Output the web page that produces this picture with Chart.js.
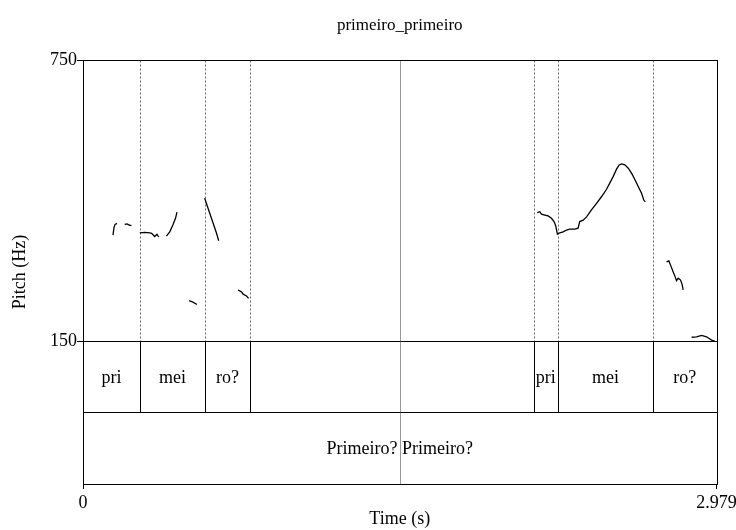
<!DOCTYPE html>
<html>
<head>
<meta charset="utf-8">
<script src="https://cdn.jsdelivr.net/npm/chart.js@4/dist/chart.umd.min.js"></script>
<style>
  html, body { margin: 0; padding: 0; background: #fff; }
  canvas { display: block; }
</style>
</head>
<body>
<canvas id="c" width="736" height="530"></canvas>
<script>
// Pitch track: time (s) and F0 (Hz); null separates voiced stretches
const pitchTime = [
  0.141, 0.146, 0.151, 0.160, null,
  0.196, 0.207, 0.220, 0.228, null,
  0.267, 0.290, 0.314, 0.323, 0.337, 0.348, 0.356, null,
  0.392, 0.408, 0.423, 0.435, 0.442, null,
  0.499, 0.517, 0.536, null,
  0.572, 0.580, 0.604, 0.628, 0.638, null,
  0.729, 0.745, 0.753, 0.769, 0.779, null,
  2.136, 2.148, 2.156, 2.172, 2.187, 2.203, 2.215, 2.223, 2.227, 2.231,
  2.242, 2.258, 2.274, 2.289, 2.313, 2.328, 2.336, 2.352, 2.368, 2.391,
  2.415, 2.438, 2.462, 2.477, 2.493, 2.509, 2.521, 2.533, 2.548, 2.564,
  2.580, 2.595, 2.611, 2.627, 2.637, 2.644, null,
  2.744, 2.755, 2.763, 2.775, 2.783, 2.791, 2.799, 2.810, 2.818, 2.822, null,
  2.862, 2.885, 2.909, 2.932, 2.956, 2.971
];
const pitchHz = [
  376, 393, 399, 401, null,
  399, 400, 397, 397, null,
  381, 382, 381, 380, 373, 378, 372, null,
  374, 383, 398, 412, 425, null,
  236, 233, 228, null,
  455, 444, 412, 380, 364, null,
  259, 255, 250, 246, 241, null,
  424, 426, 421, 419, 417, 412, 405, 396, 387, 378,
  381, 383, 387, 389, 389, 391, 405, 408, 415, 430,
  444, 458, 474, 487, 501, 517, 526, 528, 526, 519,
  508, 495, 480, 465, 451, 447, null,
  319, 321, 312, 298, 289, 279, 284, 280, 270, 259, null,
  158, 159, 162, 159, 152, 150
];

// Syllable tier
const syllableEdges = [0, 0.268, 0.574, 0.784, 2.120, 2.233, 2.680, 2.979];
const syllableLabels = ['pri', 'mei', 'ro?', '', 'pri', 'mei', 'ro?'];

// Phrase tier
const phraseEdges = [0, 2.979];
const phraseLabels = ['Primeiro? Primeiro?'];

// Cursor line at the midpoint of the sound
const cursorTime = 1.4895;

// Axes
const xTicks = [0, 2.979];
const xTickLabels = ['0', '2.979'];
const yTicks = [150, 750];
const yTickLabels = ['150', '750'];
const pitchFloor = 150;
const pitchCeiling = 750;
const chartTitle = 'primeiro_primeiro';

// The two text tiers sit below the pitch panel; their height relative to the panel
const tierShare = 143 / 281;
const yBottom = pitchFloor - (pitchCeiling - pitchFloor) * tierShare;

const FONT = "'Liberation Serif', 'Times New Roman', Times, serif";
Chart.defaults.font.family = FONT;
Chart.defaults.font.size = 18;
Chart.defaults.color = '#000';

const points = pitchTime.map((t, i) => ({ x: t, y: pitchHz[i] }));

const crisp = v => Math.round(v) + 0.5;

const tierPlugin = {
  id: 'tiers',
  beforeDatasetsDraw(chart) {
    const { ctx, chartArea: a, scales: { x, y } } = chart;
    const yBase = crisp(y.getPixelForValue(pitchFloor));
    const ySplit = crisp((y.getPixelForValue(pitchFloor) + a.bottom) / 2 - 0.5);
    const top = crisp(a.top), bottom = crisp(a.bottom);
    const left = crisp(a.left), right = crisp(a.right);
    ctx.save();
    ctx.lineWidth = 1;

    // dotted syllable boundaries through the pitch panel
    ctx.strokeStyle = '#666';
    ctx.setLineDash([2, 2]);
    syllableEdges.slice(1, -1).forEach(t => {
      const px = crisp(x.getPixelForValue(t));
      ctx.beginPath(); ctx.moveTo(px, top); ctx.lineTo(px, yBase); ctx.stroke();
    });
    ctx.setLineDash([]);

    // cursor
    ctx.strokeStyle = '#9a9a9a';
    const cx = crisp(x.getPixelForValue(cursorTime));
    ctx.beginPath(); ctx.moveTo(cx, top); ctx.lineTo(cx, bottom); ctx.stroke();

    // syllable boundaries in tier 1
    ctx.strokeStyle = '#000';
    syllableEdges.slice(1, -1).forEach(t => {
      const px = crisp(x.getPixelForValue(t));
      ctx.beginPath(); ctx.moveTo(px, yBase); ctx.lineTo(px, ySplit); ctx.stroke();
    });
    // phrase boundaries in tier 2
    phraseEdges.slice(1, -1).forEach(t => {
      const px = crisp(x.getPixelForValue(t));
      ctx.beginPath(); ctx.moveTo(px, ySplit); ctx.lineTo(px, bottom); ctx.stroke();
    });

    // tier separators and frame
    ctx.beginPath();
    ctx.moveTo(left, yBase); ctx.lineTo(right, yBase);
    ctx.moveTo(left, ySplit); ctx.lineTo(right, ySplit);
    ctx.stroke();
    ctx.strokeRect(left, top, right - left, bottom - top);

    // interval labels
    ctx.fillStyle = '#000';
    ctx.font = '18px ' + FONT;
    ctx.textAlign = 'center';
    ctx.textBaseline = 'middle';
    const midTier1 = (yBase + ySplit) / 2;
    const midTier2 = (ySplit + bottom) / 2;
    syllableLabels.forEach((lab, i) => {
      if (!lab) return;
      const px = (x.getPixelForValue(syllableEdges[i]) + x.getPixelForValue(syllableEdges[i + 1])) / 2;
      ctx.fillText(lab, px, midTier1 + 1);
    });
    phraseLabels.forEach((lab, i) => {
      const px = (x.getPixelForValue(phraseEdges[i]) + x.getPixelForValue(phraseEdges[i + 1])) / 2;
      ctx.fillText(lab, px, midTier2 + 1);
    });
    ctx.restore();
  },
  afterDraw(chart) {
    // title centred over the plot frame
    const { ctx, chartArea: a } = chart;
    ctx.save();
    ctx.fillStyle = '#000';
    ctx.font = '17px ' + FONT;
    ctx.textAlign = 'center';
    ctx.textBaseline = 'middle';
    ctx.fillText(chartTitle, (a.left + a.right) / 2, a.top - 34);
    ctx.restore();
  }
};

new Chart(document.getElementById('c'), {
  type: 'scatter',
  data: {
    datasets: [{
      data: points,
      showLine: true,
      spanGaps: false,
      borderColor: '#000',
      borderWidth: 1.3,
      pointRadius: 0,
      tension: 0
    }]
  },
  options: {
    responsive: false,
    animation: false,
    devicePixelRatio: 1,
    layout: { padding: { left: 0, right: 0, top: 60, bottom: 0 } },
    plugins: {
      legend: { display: false },
      tooltip: { enabled: false },
      title: { display: false }
    },
    scales: {
      x: {
        type: 'linear',
        min: 0,
        max: 2.979,
        afterBuildTicks: s => { s.ticks = xTicks.map(v => ({ value: v })); },
        afterFit: s => { s.height = 46; s.paddingLeft = 0; s.paddingRight = 19.5; },
        grid: { drawOnChartArea: false, drawTicks: true, tickLength: 5, color: '#000' },
        border: { display: false },
        ticks: {
          autoSkip: false,
          maxRotation: 0,
          padding: 3,
          callback: (v, i) => xTickLabels[i]
        },
        title: { display: true, text: 'Time (s)', padding: { top: 0, bottom: 0 } }
      },
      y: {
        type: 'linear',
        min: yBottom,
        max: pitchCeiling,
        afterBuildTicks: s => { s.ticks = yTicks.map(v => ({ value: v })); },
        afterFit: s => { s.width = 83; },
        grid: { drawOnChartArea: false, drawTicks: true, tickLength: 6, color: '#000' },
        border: { display: false },
        ticks: {
          autoSkip: false,
          padding: 0,
          callback: (v, i) => yTickLabels[i]
        },
        title: { display: true, text: 'Pitch (Hz)', padding: { top: 9, bottom: 0 } }
      }
    }
  },
  plugins: [tierPlugin]
});
</script>
</body>
</html>
